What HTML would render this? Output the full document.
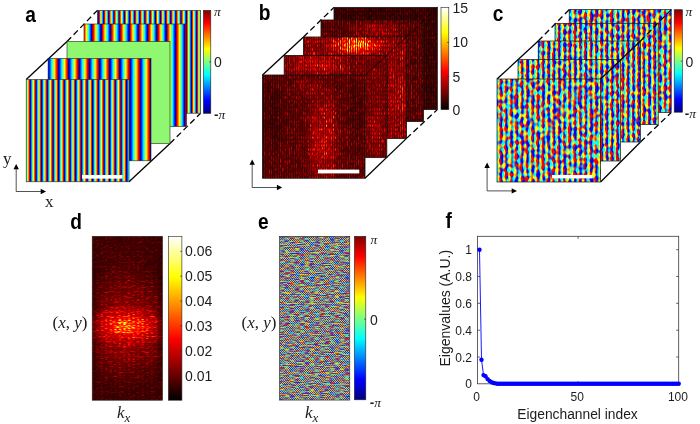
<!DOCTYPE html><html><head><meta charset="utf-8"><title>figure</title>
<style>html,body{margin:0;padding:0;background:#fff}svg{display:block}text{font-family:"Liberation Sans",sans-serif;fill:#1c1c1c}.b{font-weight:bold;font-size:22px;fill:#000}.m{font-family:"Liberation Serif",serif;font-style:italic}.s{font-family:"Liberation Serif",serif}</style></head><body>
<svg width="700" height="424" viewBox="0 0 700 424">
<defs>
<linearGradient id="jetV" x1="0" y1="1" x2="0" y2="0"><stop offset="0.0000" stop-color="#000080"/><stop offset="0.0312" stop-color="#00009f"/><stop offset="0.0625" stop-color="#0000bf"/><stop offset="0.0938" stop-color="#0000df"/><stop offset="0.1250" stop-color="#0000ff"/><stop offset="0.1562" stop-color="#0020ff"/><stop offset="0.1875" stop-color="#0040ff"/><stop offset="0.2188" stop-color="#0060ff"/><stop offset="0.2500" stop-color="#0080ff"/><stop offset="0.2812" stop-color="#009fff"/><stop offset="0.3125" stop-color="#00bfff"/><stop offset="0.3438" stop-color="#00dfff"/><stop offset="0.3750" stop-color="#00ffff"/><stop offset="0.4062" stop-color="#20ffdf"/><stop offset="0.4375" stop-color="#40ffbf"/><stop offset="0.4688" stop-color="#60ff9f"/><stop offset="0.5000" stop-color="#80ff80"/><stop offset="0.5312" stop-color="#9fff60"/><stop offset="0.5625" stop-color="#bfff40"/><stop offset="0.5938" stop-color="#dfff20"/><stop offset="0.6250" stop-color="#ffff00"/><stop offset="0.6562" stop-color="#ffdf00"/><stop offset="0.6875" stop-color="#ffbf00"/><stop offset="0.7188" stop-color="#ff9f00"/><stop offset="0.7500" stop-color="#ff8000"/><stop offset="0.7812" stop-color="#ff6000"/><stop offset="0.8125" stop-color="#ff4000"/><stop offset="0.8438" stop-color="#ff2000"/><stop offset="0.8750" stop-color="#ff0000"/><stop offset="0.9062" stop-color="#df0000"/><stop offset="0.9375" stop-color="#bf0000"/><stop offset="0.9688" stop-color="#9f0000"/><stop offset="1.0000" stop-color="#800000"/></linearGradient>
<linearGradient id="hotV" x1="0" y1="1" x2="0" y2="0"><stop offset="0.0000" stop-color="#000000"/><stop offset="0.0417" stop-color="#1c0000"/><stop offset="0.0833" stop-color="#390000"/><stop offset="0.1250" stop-color="#550000"/><stop offset="0.1667" stop-color="#710000"/><stop offset="0.2083" stop-color="#8e0000"/><stop offset="0.2500" stop-color="#aa0000"/><stop offset="0.2917" stop-color="#c60000"/><stop offset="0.3333" stop-color="#e30000"/><stop offset="0.3750" stop-color="#ff0000"/><stop offset="0.4167" stop-color="#ff1c00"/><stop offset="0.4583" stop-color="#ff3900"/><stop offset="0.5000" stop-color="#ff5500"/><stop offset="0.5417" stop-color="#ff7100"/><stop offset="0.5833" stop-color="#ff8e00"/><stop offset="0.6250" stop-color="#ffaa00"/><stop offset="0.6667" stop-color="#ffc600"/><stop offset="0.7083" stop-color="#ffe300"/><stop offset="0.7500" stop-color="#ffff00"/><stop offset="0.7917" stop-color="#ffff2a"/><stop offset="0.8333" stop-color="#ffff55"/><stop offset="0.8750" stop-color="#ffff80"/><stop offset="0.9167" stop-color="#ffffaa"/><stop offset="0.9583" stop-color="#ffffd5"/><stop offset="1.0000" stop-color="#ffffff"/></linearGradient>
<linearGradient id="sa1" gradientUnits="userSpaceOnUse" x1="24.330" y1="0" x2="30.000" y2="0" spreadMethod="repeat"><stop offset="0.0000" stop-color="#000080"/><stop offset="0.0625" stop-color="#0000bf"/><stop offset="0.1250" stop-color="#0000ff"/><stop offset="0.1875" stop-color="#0040ff"/><stop offset="0.2500" stop-color="#0080ff"/><stop offset="0.3125" stop-color="#00bfff"/><stop offset="0.3750" stop-color="#00ffff"/><stop offset="0.4375" stop-color="#40ffbf"/><stop offset="0.5000" stop-color="#80ff80"/><stop offset="0.5625" stop-color="#bfff40"/><stop offset="0.6250" stop-color="#ffff00"/><stop offset="0.6875" stop-color="#ffbf00"/><stop offset="0.7500" stop-color="#ff8000"/><stop offset="0.8125" stop-color="#ff4000"/><stop offset="0.8750" stop-color="#ff0000"/><stop offset="0.9375" stop-color="#bf0000"/><stop offset="1.0000" stop-color="#800000"/></linearGradient>
<linearGradient id="sa2" gradientUnits="userSpaceOnUse" x1="47.900" y1="0" x2="58.120" y2="0" spreadMethod="repeat"><stop offset="0.0000" stop-color="#000080"/><stop offset="0.0625" stop-color="#0000bf"/><stop offset="0.1250" stop-color="#0000ff"/><stop offset="0.1875" stop-color="#0040ff"/><stop offset="0.2500" stop-color="#0080ff"/><stop offset="0.3125" stop-color="#00bfff"/><stop offset="0.3750" stop-color="#00ffff"/><stop offset="0.4375" stop-color="#40ffbf"/><stop offset="0.5000" stop-color="#80ff80"/><stop offset="0.5625" stop-color="#bfff40"/><stop offset="0.6250" stop-color="#ffff00"/><stop offset="0.6875" stop-color="#ffbf00"/><stop offset="0.7500" stop-color="#ff8000"/><stop offset="0.8125" stop-color="#ff4000"/><stop offset="0.8750" stop-color="#ff0000"/><stop offset="0.9375" stop-color="#bf0000"/><stop offset="1.0000" stop-color="#800000"/></linearGradient>
<linearGradient id="sa4" gradientUnits="userSpaceOnUse" x1="83.020" y1="0" x2="92.320" y2="0" spreadMethod="repeat"><stop offset="0.0000" stop-color="#800000"/><stop offset="0.0625" stop-color="#bf0000"/><stop offset="0.1250" stop-color="#ff0000"/><stop offset="0.1875" stop-color="#ff4000"/><stop offset="0.2500" stop-color="#ff8000"/><stop offset="0.3125" stop-color="#ffbf00"/><stop offset="0.3750" stop-color="#ffff00"/><stop offset="0.4375" stop-color="#bfff40"/><stop offset="0.5000" stop-color="#80ff80"/><stop offset="0.5625" stop-color="#40ffbf"/><stop offset="0.6250" stop-color="#00ffff"/><stop offset="0.6875" stop-color="#00bfff"/><stop offset="0.7500" stop-color="#0080ff"/><stop offset="0.8125" stop-color="#0040ff"/><stop offset="0.8750" stop-color="#0000ff"/><stop offset="0.9375" stop-color="#0000bf"/><stop offset="1.0000" stop-color="#000080"/></linearGradient>
<linearGradient id="sa5" gradientUnits="userSpaceOnUse" x1="93.640" y1="0" x2="98.800" y2="0" spreadMethod="repeat"><stop offset="0.0000" stop-color="#800000"/><stop offset="0.0625" stop-color="#bf0000"/><stop offset="0.1250" stop-color="#ff0000"/><stop offset="0.1875" stop-color="#ff4000"/><stop offset="0.2500" stop-color="#ff8000"/><stop offset="0.3125" stop-color="#ffbf00"/><stop offset="0.3750" stop-color="#ffff00"/><stop offset="0.4375" stop-color="#bfff40"/><stop offset="0.5000" stop-color="#80ff80"/><stop offset="0.5625" stop-color="#40ffbf"/><stop offset="0.6250" stop-color="#00ffff"/><stop offset="0.6875" stop-color="#00bfff"/><stop offset="0.7500" stop-color="#0080ff"/><stop offset="0.8125" stop-color="#0040ff"/><stop offset="0.8750" stop-color="#0000ff"/><stop offset="0.9375" stop-color="#0000bf"/><stop offset="1.0000" stop-color="#000080"/></linearGradient>
<linearGradient id="sc" gradientUnits="userSpaceOnUse" x1="0.000" y1="0" x2="5.100" y2="0" spreadMethod="repeat"><stop offset="0.0000" stop-color="#000080"/><stop offset="0.0625" stop-color="#0000bf"/><stop offset="0.1250" stop-color="#0000ff"/><stop offset="0.1875" stop-color="#0040ff"/><stop offset="0.2500" stop-color="#0080ff"/><stop offset="0.3125" stop-color="#00bfff"/><stop offset="0.3750" stop-color="#00ffff"/><stop offset="0.4375" stop-color="#40ffbf"/><stop offset="0.5000" stop-color="#80ff80"/><stop offset="0.5625" stop-color="#bfff40"/><stop offset="0.6250" stop-color="#ffff00"/><stop offset="0.6875" stop-color="#ffbf00"/><stop offset="0.7500" stop-color="#ff8000"/><stop offset="0.8125" stop-color="#ff4000"/><stop offset="0.8750" stop-color="#ff0000"/><stop offset="0.9375" stop-color="#bf0000"/><stop offset="1.0000" stop-color="#800000"/></linearGradient>
<linearGradient id="car" gradientUnits="userSpaceOnUse" x1="0" y1="0" x2="5.3" y2="0" spreadMethod="repeat"><stop offset="0.0000" stop-color="#ff8000"/><stop offset="0.0625" stop-color="#f5b000"/><stop offset="0.1250" stop-color="#dada00"/><stop offset="0.1875" stop-color="#b0f500"/><stop offset="0.2500" stop-color="#80ff00"/><stop offset="0.3125" stop-color="#4ff500"/><stop offset="0.3750" stop-color="#25da00"/><stop offset="0.4375" stop-color="#0ab000"/><stop offset="0.5000" stop-color="#008000"/><stop offset="0.5625" stop-color="#0a4f00"/><stop offset="0.6250" stop-color="#252500"/><stop offset="0.6875" stop-color="#4f0a00"/><stop offset="0.7500" stop-color="#7f0000"/><stop offset="0.8125" stop-color="#b00a00"/><stop offset="0.8750" stop-color="#da2500"/><stop offset="0.9375" stop-color="#f54f00"/><stop offset="1.0000" stop-color="#ff7f00"/></linearGradient>
<filter id="fc1" filterUnits="userSpaceOnUse" x="495.0" y="77.0" width="107.6" height="107.0" color-interpolation-filters="sRGB"><feTurbulence type="fractalNoise" baseFrequency="0.22 0.22" numOctaves="1" seed="4"/><feColorMatrix type="matrix" values="1 0 0 0 0  0 1 0 0 0  0 0 1 0 0  0 0 0 0 1" result="n"/><feComposite in="n" in2="SourceGraphic" operator="arithmetic" k1="0" k2="1.2" k3="0.38" k4="-0.290" result="s"/><feColorMatrix in="s" type="matrix" values="0 3.5 0 0 -1.25  3.5 0 0 0 -1.25  0 -3.5 0 0 2.25  0 0 0 0 1" result="c"/><feGaussianBlur in="c" stdDeviation="0.5"/></filter>
<filter id="fc2" filterUnits="userSpaceOnUse" x="516.0" y="57.5" width="106.5" height="105.5" color-interpolation-filters="sRGB"><feTurbulence type="fractalNoise" baseFrequency="0.23 0.23" numOctaves="1" seed="5"/><feColorMatrix type="matrix" values="1 0 0 0 0  0 1 0 0 0  0 0 1 0 0  0 0 0 0 1" result="n"/><feComposite in="n" in2="SourceGraphic" operator="arithmetic" k1="0" k2="1.2" k3="0.5" k4="-0.350" result="s"/><feColorMatrix in="s" type="matrix" values="0 3.5 0 0 -1.25  3.5 0 0 0 -1.25  0 -3.5 0 0 2.25  0 0 0 0 1" result="c"/><feGaussianBlur in="c" stdDeviation="0.5"/></filter>
<filter id="fc3" filterUnits="userSpaceOnUse" x="536.2" y="39.0" width="106.3" height="105.0" color-interpolation-filters="sRGB"><feTurbulence type="fractalNoise" baseFrequency="0.23 0.23" numOctaves="1" seed="6"/><feColorMatrix type="matrix" values="1 0 0 0 0  0 1 0 0 0  0 0 1 0 0  0 0 0 0 1" result="n"/><feComposite in="n" in2="SourceGraphic" operator="arithmetic" k1="0" k2="1.2" k3="0.55" k4="-0.375" result="s"/><feColorMatrix in="s" type="matrix" values="0 3.5 0 0 -1.25  3.5 0 0 0 -1.25  0 -3.5 0 0 2.25  0 0 0 0 1" result="c"/><feGaussianBlur in="c" stdDeviation="0.5"/></filter>
<filter id="fc4" filterUnits="userSpaceOnUse" x="553.0" y="21.3" width="107.2" height="105.3" color-interpolation-filters="sRGB"><feTurbulence type="fractalNoise" baseFrequency="0.23 0.23" numOctaves="1" seed="7"/><feColorMatrix type="matrix" values="1 0 0 0 0  0 1 0 0 0  0 0 1 0 0  0 0 0 0 1" result="n"/><feComposite in="n" in2="SourceGraphic" operator="arithmetic" k1="0" k2="1.2" k3="0.5" k4="-0.350" result="s"/><feColorMatrix in="s" type="matrix" values="0 3.5 0 0 -1.25  3.5 0 0 0 -1.25  0 -3.5 0 0 2.25  0 0 0 0 1" result="c"/><feGaussianBlur in="c" stdDeviation="0.5"/></filter>
<filter id="fc5" filterUnits="userSpaceOnUse" x="567.2" y="7.6" width="106.0" height="106.9" color-interpolation-filters="sRGB"><feTurbulence type="fractalNoise" baseFrequency="0.22 0.22" numOctaves="1" seed="8"/><feColorMatrix type="matrix" values="1 0 0 0 0  0 1 0 0 0  0 0 1 0 0  0 0 0 0 1" result="n"/><feComposite in="n" in2="SourceGraphic" operator="arithmetic" k1="0" k2="1.2" k3="0.4" k4="-0.300" result="s"/><feColorMatrix in="s" type="matrix" values="0 3.5 0 0 -1.25  3.5 0 0 0 -1.25  0 -3.5 0 0 2.25  0 0 0 0 1" result="c"/><feGaussianBlur in="c" stdDeviation="0.5"/></filter>
<linearGradient id="care" gradientUnits="userSpaceOnUse" x1="0" y1="0" x2="1.25" y2="1.0" spreadMethod="repeat"><stop offset="0.0000" stop-color="#ff8000"/><stop offset="0.1250" stop-color="#dada00"/><stop offset="0.2500" stop-color="#80ff00"/><stop offset="0.3750" stop-color="#25da00"/><stop offset="0.5000" stop-color="#008000"/><stop offset="0.6250" stop-color="#252500"/><stop offset="0.7500" stop-color="#7f0000"/><stop offset="0.8750" stop-color="#da2500"/><stop offset="1.0000" stop-color="#ff7f00"/></linearGradient>
<linearGradient id="care2" gradientUnits="userSpaceOnUse" x1="0" y1="0" x2="1.2" y2="-1.1" spreadMethod="repeat"><stop offset="0.0000" stop-color="#ff8000"/><stop offset="0.1250" stop-color="#dada00"/><stop offset="0.2500" stop-color="#80ff00"/><stop offset="0.3750" stop-color="#25da00"/><stop offset="0.5000" stop-color="#008000"/><stop offset="0.6250" stop-color="#252500"/><stop offset="0.7500" stop-color="#7f0000"/><stop offset="0.8750" stop-color="#da2500"/><stop offset="1.0000" stop-color="#ff7f00"/></linearGradient>
<filter id="fe" filterUnits="userSpaceOnUse" x="277.5" y="234.3" width="74.3" height="167.8" color-interpolation-filters="sRGB"><feTurbulence type="fractalNoise" baseFrequency="0.2 0.9" numOctaves="1" seed="3"/><feColorMatrix type="matrix" values="1 0 0 0 0  0 1 0 0 0  0 0 1 0 0  0 0 0 0 1" result="n"/><feComposite in="n" in2="SourceGraphic" operator="arithmetic" k1="0" k2="1.3" k3="0.7" k4="-0.500" result="s"/><feColorMatrix in="s" type="matrix" values="0 3 0 0 -1.0  3 0 0 0 -1.0  0 -3 0 0 2.0  0 0 0 0 1" result="c"/><feGaussianBlur in="c" stdDeviation="0.6"/><feColorMatrix type="matrix" values="0.72 0 0 0 0.14  0 0.72 0 0 0.14  0 0 0.72 0 0.14  0 0 0 1 0"/></filter>
<filter id="fb1" filterUnits="userSpaceOnUse" x="260.5" y="73.0" width="106.5" height="107.2" color-interpolation-filters="sRGB"><feTurbulence type="fractalNoise" baseFrequency="0.45 0.25" numOctaves="1" seed="21"/><feColorMatrix type="matrix" values="2.0 0 0 0 -0.500  0 2.0 0 0 -0.500  0 0 0 0 0  0 0 0 0 1" result="n"/><feComposite in="n" in2="n" operator="arithmetic" k1="4" k2="-4" k3="0" k4="1" result="q"/><feColorMatrix in="q" type="matrix" values="0.34 0.34 0 0 0.32  0.34 0.34 0 0 0.32  0.34 0.34 0 0 0.32  0 0 0 0 1" result="v"/><feComposite in="v" in2="SourceGraphic" operator="arithmetic" k1="2.6" k2="0" k3="0" k4="0" result="m"/><feGaussianBlur in="m" stdDeviation="0.4" result="m2"/><feComponentTransfer><feFuncR type="table" tableValues="0 0.167 0.333 0.5 0.667 0.833 1 1 1 1 1 1 1 1 1 1 1"/><feFuncG type="table" tableValues="0 0 0 0 0 0 0 0.167 0.333 0.5 0.667 0.833 1 1 1 1 1"/><feFuncB type="table" tableValues="0 0 0 0 0 0 0 0 0 0 0 0 0 0.25 0.5 0.75 1"/></feComponentTransfer></filter>
<filter id="fb2" filterUnits="userSpaceOnUse" x="282.2" y="53.5" width="106.6" height="106.1" color-interpolation-filters="sRGB"><feTurbulence type="fractalNoise" baseFrequency="0.45 0.25" numOctaves="1" seed="22"/><feColorMatrix type="matrix" values="2.0 0 0 0 -0.500  0 2.0 0 0 -0.500  0 0 0 0 0  0 0 0 0 1" result="n"/><feComposite in="n" in2="n" operator="arithmetic" k1="4" k2="-4" k3="0" k4="1" result="q"/><feColorMatrix in="q" type="matrix" values="0.34 0.34 0 0 0.32  0.34 0.34 0 0 0.32  0.34 0.34 0 0 0.32  0 0 0 0 1" result="v"/><feComposite in="v" in2="SourceGraphic" operator="arithmetic" k1="2.6" k2="0" k3="0" k4="0" result="m"/><feGaussianBlur in="m" stdDeviation="0.4" result="m2"/><feComponentTransfer><feFuncR type="table" tableValues="0 0.167 0.333 0.5 0.667 0.833 1 1 1 1 1 1 1 1 1 1 1"/><feFuncG type="table" tableValues="0 0 0 0 0 0 0 0.167 0.333 0.5 0.667 0.833 1 1 1 1 1"/><feFuncB type="table" tableValues="0 0 0 0 0 0 0 0 0 0 0 0 0 0.25 0.5 0.75 1"/></feComponentTransfer></filter>
<filter id="fb3" filterUnits="userSpaceOnUse" x="301.5" y="35.0" width="107.0" height="105.4" color-interpolation-filters="sRGB"><feTurbulence type="fractalNoise" baseFrequency="0.45 0.25" numOctaves="1" seed="23"/><feColorMatrix type="matrix" values="2.0 0 0 0 -0.500  0 2.0 0 0 -0.500  0 0 0 0 0  0 0 0 0 1" result="n"/><feComposite in="n" in2="n" operator="arithmetic" k1="4" k2="-4" k3="0" k4="1" result="q"/><feColorMatrix in="q" type="matrix" values="0.34 0.34 0 0 0.32  0.34 0.34 0 0 0.32  0.34 0.34 0 0 0.32  0 0 0 0 1" result="v"/><feComposite in="v" in2="SourceGraphic" operator="arithmetic" k1="2.6" k2="0" k3="0" k4="0" result="m"/><feGaussianBlur in="m" stdDeviation="0.4" result="m2"/><feComponentTransfer><feFuncR type="table" tableValues="0 0.167 0.333 0.5 0.667 0.833 1 1 1 1 1 1 1 1 1 1 1"/><feFuncG type="table" tableValues="0 0 0 0 0 0 0 0.167 0.333 0.5 0.667 0.833 1 1 1 1 1"/><feFuncB type="table" tableValues="0 0 0 0 0 0 0 0 0 0 0 0 0 0.25 0.5 0.75 1"/></feComponentTransfer></filter>
<filter id="fb4" filterUnits="userSpaceOnUse" x="319.0" y="18.0" width="106.4" height="105.4" color-interpolation-filters="sRGB"><feTurbulence type="fractalNoise" baseFrequency="0.45 0.25" numOctaves="1" seed="24"/><feColorMatrix type="matrix" values="2.0 0 0 0 -0.500  0 2.0 0 0 -0.500  0 0 0 0 0  0 0 0 0 1" result="n"/><feComposite in="n" in2="n" operator="arithmetic" k1="4" k2="-4" k3="0" k4="1" result="q"/><feColorMatrix in="q" type="matrix" values="0.34 0.34 0 0 0.32  0.34 0.34 0 0 0.32  0.34 0.34 0 0 0.32  0 0 0 0 1" result="v"/><feComposite in="v" in2="SourceGraphic" operator="arithmetic" k1="2.6" k2="0" k3="0" k4="0" result="m"/><feGaussianBlur in="m" stdDeviation="0.4" result="m2"/><feComponentTransfer><feFuncR type="table" tableValues="0 0.167 0.333 0.5 0.667 0.833 1 1 1 1 1 1 1 1 1 1 1"/><feFuncG type="table" tableValues="0 0 0 0 0 0 0 0.167 0.333 0.5 0.667 0.833 1 1 1 1 1"/><feFuncB type="table" tableValues="0 0 0 0 0 0 0 0 0 0 0 0 0 0.25 0.5 0.75 1"/></feComponentTransfer></filter>
<filter id="fb5" filterUnits="userSpaceOnUse" x="332.0" y="5.4" width="107.3" height="106.2" color-interpolation-filters="sRGB"><feTurbulence type="fractalNoise" baseFrequency="0.45 0.25" numOctaves="1" seed="25"/><feColorMatrix type="matrix" values="2.0 0 0 0 -0.500  0 2.0 0 0 -0.500  0 0 0 0 0  0 0 0 0 1" result="n"/><feComposite in="n" in2="n" operator="arithmetic" k1="4" k2="-4" k3="0" k4="1" result="q"/><feColorMatrix in="q" type="matrix" values="0.34 0.34 0 0 0.32  0.34 0.34 0 0 0.32  0.34 0.34 0 0 0.32  0 0 0 0 1" result="v"/><feComposite in="v" in2="SourceGraphic" operator="arithmetic" k1="2.6" k2="0" k3="0" k4="0" result="m"/><feGaussianBlur in="m" stdDeviation="0.4" result="m2"/><feComponentTransfer><feFuncR type="table" tableValues="0 0.167 0.333 0.5 0.667 0.833 1 1 1 1 1 1 1 1 1 1 1"/><feFuncG type="table" tableValues="0 0 0 0 0 0 0 0.167 0.333 0.5 0.667 0.833 1 1 1 1 1"/><feFuncB type="table" tableValues="0 0 0 0 0 0 0 0 0 0 0 0 0 0.25 0.5 0.75 1"/></feComponentTransfer></filter>
<filter id="fd" filterUnits="userSpaceOnUse" x="90.2" y="234.3" width="74.3" height="167.9" color-interpolation-filters="sRGB"><feTurbulence type="fractalNoise" baseFrequency="0.22 0.8" numOctaves="1" seed="31"/><feColorMatrix type="matrix" values="2.0 0 0 0 -0.500  0 2.0 0 0 -0.500  0 0 0 0 0  0 0 0 0 1" result="n"/><feComposite in="n" in2="n" operator="arithmetic" k1="4" k2="-4" k3="0" k4="1" result="q"/><feColorMatrix in="q" type="matrix" values="0.3 0.3 0 0 0.35  0.3 0.3 0 0 0.35  0.3 0.3 0 0 0.35  0 0 0 0 1" result="v"/><feComposite in="v" in2="SourceGraphic" operator="arithmetic" k1="2" k2="0" k3="0" k4="0" result="m"/><feGaussianBlur in="m" stdDeviation="0.5" result="m2"/><feComponentTransfer><feFuncR type="table" tableValues="0 0.167 0.333 0.5 0.667 0.833 1 1 1 1 1 1 1 1 1 1 1"/><feFuncG type="table" tableValues="0 0 0 0 0 0 0 0.167 0.333 0.5 0.667 0.833 1 1 1 1 1"/><feFuncB type="table" tableValues="0 0 0 0 0 0 0 0 0 0 0 0 0 0.25 0.5 0.75 1"/></feComponentTransfer></filter>
<radialGradient id="spot"><stop offset="0" stop-color="#fff" stop-opacity="1"/><stop offset="0.5" stop-color="#fff" stop-opacity="0.55"/><stop offset="1" stop-color="#fff" stop-opacity="0"/></radialGradient>
<linearGradient id="vstripe" gradientUnits="userSpaceOnUse" x1="0" y1="0" x2="2.3" y2="0" spreadMethod="repeat"><stop offset="0" stop-color="#000" stop-opacity="0"/><stop offset="0.5" stop-color="#000" stop-opacity="0.6"/><stop offset="1" stop-color="#000" stop-opacity="0"/></linearGradient>
<radialGradient id="dspot"><stop offset="0" stop-color="#000" stop-opacity="1"/><stop offset="0.5" stop-color="#000" stop-opacity="0.55"/><stop offset="1" stop-color="#000" stop-opacity="0"/></radialGradient>
</defs>
<rect width="700" height="424" fill="#fff"/>
<g stroke="#000" stroke-width="1.30" fill="none">
<path d="M26.20 79.50 L67.00 41.50"/>
<path d="M67.00 41.50 L97.40 10.40" stroke-dasharray="6 3.5"/>
<path d="M129.00 181.80 L170.00 143.50"/>
<path d="M170.00 143.50 L200.60 113.20" stroke-dasharray="6 3.5"/>
</g>
<rect x="97.40" y="10.40" width="103.20" height="102.80" fill="url(#sa5)" stroke="#222" stroke-width="0.6"/>
<rect x="84.00" y="24.00" width="102.50" height="102.50" fill="url(#sa4)" stroke="#222" stroke-width="0.6"/>
<rect x="67.00" y="41.50" width="103.00" height="102.00" fill="#8ff870" stroke="#222" stroke-width="0.6"/>
<rect x="48.10" y="58.50" width="102.90" height="102.30" fill="url(#sa2)" stroke="#222" stroke-width="0.6"/>
<rect x="26.20" y="79.50" width="102.80" height="102.30" fill="url(#sa1)" stroke="#222" stroke-width="0.6"/>
<rect x="82" y="175" width="40.5" height="3.6" fill="#fff"/>
<path d="M16.2 168.0 V191.5 H42.0" stroke="#1a1a1a" stroke-width="0.75" fill="none"/>
<path d="M16.2 164.0 l-2.7 5.3 h5.4z M46.0 191.5 l-5.3 -2.7 v5.4z" fill="#000"/>
<rect x="203.4" y="10.3" width="7.4" height="103" fill="url(#jetV)" stroke="#222" stroke-width="0.6"/>
<text class="b" transform="translate(25.2 21.6) scale(0.87 1)">a</text>
<text class="s" x="3" y="164" font-size="17">y</text>
<text class="s" x="45" y="207" font-size="17">x</text>
<path d="M210.8 61.8 h-1.6" stroke="#222" stroke-width="0.7" fill="none"/>
<text class="m" x="214" y="16.2" font-size="13.5">π</text>
<text x="214" y="67" font-size="14">0</text>
<text x="214" y="118.6" font-size="13.5" font-weight="bold">-<tspan class="m" font-weight="normal">π</tspan></text>
<g stroke="#000" stroke-width="1.30" fill="none">
<path d="M262.50 75.00 L303.50 37.00"/>
<path d="M303.50 37.00 L334.00 7.40" stroke-dasharray="6 3.5"/>
<path d="M365.00 178.20 L406.50 138.40"/>
<path d="M406.50 138.40 L437.30 109.60" stroke-dasharray="6 3.5"/>
</g>
<svg x="334.00" y="7.40" width="103.30" height="102.20" viewBox="334.00 7.40 103.30 102.20" overflow="hidden"><g filter="url(#fb5)"><rect x="331.0" y="4.4" width="109.3" height="108.2" fill="#1a1a1a"/><rect x="331.0" y="4.4" width="109.3" height="108.2" fill="url(#vstripe)"/></g></svg>
<rect x="334.00" y="7.40" width="103.30" height="102.20" fill="none" stroke="#151515" stroke-width="0.85"/>
<svg x="321.00" y="20.00" width="102.40" height="101.40" viewBox="321.00 20.00 102.40 101.40" overflow="hidden"><g filter="url(#fb4)"><rect x="318.0" y="17.0" width="108.4" height="107.4" fill="#292929"/><ellipse cx="378.0" cy="30.0" rx="32.0" ry="14.0" fill="url(#spot)" opacity="0.15"/><rect x="318.0" y="17.0" width="108.4" height="107.4" fill="url(#vstripe)"/></g></svg>
<rect x="321.00" y="20.00" width="102.40" height="101.40" fill="none" stroke="#151515" stroke-width="0.85"/>
<svg x="303.50" y="37.00" width="103.00" height="101.40" viewBox="303.50 37.00 103.00 101.40" overflow="hidden"><g filter="url(#fb3)"><rect x="300.5" y="34.0" width="109.0" height="107.4" fill="#404040"/><ellipse cx="356.0" cy="45.0" rx="30.0" ry="12.0" fill="url(#spot)" opacity="0.55"/><ellipse cx="397.0" cy="95.0" rx="14.0" ry="28.0" fill="url(#spot)" opacity="0.08"/><rect x="300.5" y="34.0" width="109.0" height="107.4" fill="url(#vstripe)"/></g></svg>
<rect x="303.50" y="37.00" width="103.00" height="101.40" fill="none" stroke="#151515" stroke-width="0.85"/>
<svg x="284.20" y="55.50" width="102.60" height="102.10" viewBox="284.20 55.50 102.60 102.10" overflow="hidden"><g filter="url(#fb2)"><rect x="281.2" y="52.5" width="108.6" height="108.1" fill="#383838"/><ellipse cx="318.0" cy="64.0" rx="32.0" ry="14.0" fill="url(#spot)" opacity="0.20"/><ellipse cx="376.0" cy="130.0" rx="14.0" ry="30.0" fill="url(#spot)" opacity="0.06"/><rect x="281.2" y="52.5" width="108.6" height="108.1" fill="url(#vstripe)"/></g></svg>
<rect x="284.20" y="55.50" width="102.60" height="102.10" fill="none" stroke="#151515" stroke-width="0.85"/>
<svg x="262.50" y="75.00" width="102.50" height="103.20" viewBox="262.50 75.00 102.50 103.20" overflow="hidden"><g filter="url(#fb1)"><rect x="259.5" y="72.0" width="108.5" height="109.2" fill="#2b2b2b"/><ellipse cx="323.0" cy="140.0" rx="21.0" ry="62.0" fill="url(#spot)" opacity="0.24"/><ellipse cx="308.0" cy="88.0" rx="20.0" ry="12.0" fill="url(#spot)" opacity="0.10"/><ellipse cx="272.0" cy="112.0" rx="20.0" ry="52.0" fill="url(#dspot)" opacity="0.35"/><ellipse cx="358.0" cy="120.0" rx="10.0" ry="50.0" fill="url(#dspot)" opacity="0.20"/><rect x="259.5" y="72.0" width="108.5" height="109.2" fill="url(#vstripe)"/></g></svg>
<rect x="262.50" y="75.00" width="102.50" height="103.20" fill="none" stroke="#151515" stroke-width="0.85"/>
<g stroke="#000" stroke-width="0.80" fill="none">
<path d="M365.00 75.00 L406.50 37.00"/>
<path d="M406.50 37.00 L437.30 7.40" stroke-dasharray="6 3.5"/>
</g>
<rect x="318" y="169.6" width="41.3" height="3.8" fill="#fff"/>
<path d="M252.2 163.4 V187.5 H278.2" stroke="#1a1a1a" stroke-width="0.75" fill="none"/>
<path d="M252.2 159.4 l-2.7 5.3 h5.4z M282.2 187.5 l-5.3 -2.7 v5.4z" fill="#000"/>
<rect x="441" y="7.4" width="7.8" height="102.2" fill="url(#hotV)" stroke="#222" stroke-width="0.6"/>
<path d="M448.8 42.4 h-1.6 M448.8 76.6 h-1.6" stroke="#222" stroke-width="0.7" fill="none"/>
<text class="b" transform="translate(258.8 20.4) scale(0.87 1)">b</text>
<text x="452.5" y="13.0" font-size="14">15</text>
<text x="452.5" y="47.4" font-size="14">10</text>
<text x="452.5" y="81.6" font-size="14">5</text>
<text x="452.5" y="115.0" font-size="14">0</text>
<g stroke="#000" stroke-width="1.30" fill="none">
<path d="M497.00 79.00 L538.20 41.00"/>
<path d="M538.20 41.00 L569.20 9.60" stroke-dasharray="6 3.5"/>
<path d="M600.60 182.00 L640.50 142.00"/>
<path d="M640.50 142.00 L671.20 112.50" stroke-dasharray="6 3.5"/>
</g>
<svg x="569.20" y="9.60" width="102.00" height="102.90" viewBox="569.20 9.60 102.00 102.90" overflow="hidden"><g filter="url(#fc5)"><rect x="566.2" y="6.6" width="108.0" height="108.9" fill="url(#car)"/></g></svg>
<rect x="569.20" y="9.60" width="102.00" height="102.90" fill="none" stroke="#151515" stroke-width="0.7"/>
<svg x="555.00" y="23.30" width="103.20" height="101.30" viewBox="555.00 23.30 103.20 101.30" overflow="hidden"><g filter="url(#fc4)"><rect x="552.0" y="20.3" width="109.2" height="107.3" fill="url(#car)"/></g></svg>
<rect x="555.00" y="23.30" width="103.20" height="101.30" fill="none" stroke="#151515" stroke-width="0.7"/>
<svg x="538.20" y="41.00" width="102.30" height="101.00" viewBox="538.20 41.00 102.30 101.00" overflow="hidden"><g filter="url(#fc3)"><rect x="535.2" y="38.0" width="108.3" height="107.0" fill="url(#car)"/></g></svg>
<rect x="538.20" y="41.00" width="102.30" height="101.00" fill="none" stroke="#151515" stroke-width="0.7"/>
<svg x="518.00" y="59.50" width="102.50" height="101.50" viewBox="518.00 59.50 102.50 101.50" overflow="hidden"><g filter="url(#fc2)"><rect x="515.0" y="56.5" width="108.5" height="107.5" fill="url(#car)"/></g></svg>
<rect x="518.00" y="59.50" width="102.50" height="101.50" fill="none" stroke="#151515" stroke-width="0.7"/>
<svg x="497.00" y="79.00" width="103.60" height="103.00" viewBox="497.00 79.00 103.60 103.00" overflow="hidden"><g filter="url(#fc1)"><rect x="494.0" y="76.0" width="109.6" height="109.0" fill="url(#car)"/></g></svg>
<rect x="497.00" y="79.00" width="103.60" height="103.00" fill="none" stroke="#151515" stroke-width="0.7"/>
<g stroke="#000" stroke-width="1.25" fill="none">
<path d="M600.60 79.00 L640.50 41.00"/>
<path d="M640.50 41.00 L671.20 9.60" stroke-dasharray="6 3.5"/>
</g>
<rect x="552" y="175" width="40.6" height="3.4" fill="#fff"/>
<path d="M487.1 166.6 V190.9 H513.0" stroke="#1a1a1a" stroke-width="0.75" fill="none"/>
<path d="M487.1 162.6 l-2.7 5.3 h5.4z M517.0 190.9 l-5.3 -2.7 v5.4z" fill="#000"/>
<rect x="674.2" y="9.7" width="8.2" height="102.5" fill="url(#jetV)" stroke="#222" stroke-width="0.6"/>
<text class="b" transform="translate(492.8 20.6) scale(0.87 1)">c</text>
<path d="M682.4 61.2 h-1.6" stroke="#222" stroke-width="0.7" fill="none"/>
<text class="m" x="685.5" y="16.2" font-size="13.5">π</text>
<text x="685.5" y="66.5" font-size="14">0</text>
<text x="684.8" y="118" font-size="13.5" font-weight="bold">-<tspan class="m" font-weight="normal">π</tspan></text>
<svg x="92.20" y="236.30" width="70.30" height="163.90" viewBox="92.20 236.30 70.30 163.90" overflow="hidden"><g filter="url(#fd)"><rect x="89.2" y="233.3" width="76.3" height="169.9" fill="#1b1b1b"/><ellipse cx="126.0" cy="327.0" rx="58.0" ry="62.0" fill="url(#spot)" opacity="0.20"/><ellipse cx="126.0" cy="326.0" rx="48.0" ry="22.0" fill="url(#spot)" opacity="0.28"/><ellipse cx="127.0" cy="326.0" rx="26.0" ry="10.0" fill="url(#spot)" opacity="0.25"/><ellipse cx="125.0" cy="265.0" rx="30.0" ry="30.0" fill="url(#spot)" opacity="0.03"/><ellipse cx="92.0" cy="320.0" rx="10.0" ry="90.0" fill="url(#dspot)" opacity="0.40"/><ellipse cx="163.0" cy="320.0" rx="8.0" ry="90.0" fill="url(#dspot)" opacity="0.40"/></g></svg>
<rect x="92.2" y="236.3" width="70.3" height="163.9" fill="none" stroke="#222" stroke-width="0.6"/>
<rect x="168.4" y="236.3" width="13.5" height="163.9" fill="url(#hotV)" stroke="#222" stroke-width="0.6"/>
<text x="185" y="256.3" font-size="14">0.06</text>
<text x="185" y="281.2" font-size="14">0.05</text>
<text x="185" y="306.1" font-size="14">0.04</text>
<text x="185" y="331.0" font-size="14">0.03</text>
<text x="185" y="355.9" font-size="14">0.02</text>
<text x="185" y="380.8" font-size="14">0.01</text>
<path d="M181.9 251.3 h-1.6 M181.9 276.2 h-1.6 M181.9 301.1 h-1.6 M181.9 326.0 h-1.6 M181.9 350.9 h-1.6 M181.9 375.8 h-1.6" stroke="#222" stroke-width="0.7" fill="none"/>
<text class="b" transform="translate(70.2 228.6) scale(0.87 1)">d</text>
<text class="m" x="52.5" y="328" font-size="17"><tspan font-style="normal">(</tspan>x<tspan font-style="normal">,</tspan> y<tspan font-style="normal">)</tspan></text>
<text class="m" x="117" y="418" font-size="17">k<tspan dy="4" font-size="13">x</tspan></text>
<svg x="279.50" y="236.30" width="70.30" height="163.80" viewBox="279.50 236.30 70.30 163.80" overflow="hidden"><g filter="url(#fe)"><rect x="276.5" y="233.3" width="76.3" height="169.8" fill="url(#care)"/><rect x="276.5" y="233.3" width="76.3" height="169.8" fill="url(#care2)" opacity="0.5"/></g></svg>
<rect x="279.5" y="236.3" width="70.3" height="163.8" fill="none" stroke="#222" stroke-width="0.6"/>
<rect x="354.4" y="236.3" width="11.4" height="163.5" fill="url(#jetV)" stroke="#222" stroke-width="0.6"/>
<text class="b" transform="translate(258 228.6) scale(0.87 1)">e</text>
<text class="m" x="241.5" y="328" font-size="17"><tspan font-style="normal">(</tspan>x<tspan font-style="normal">,</tspan> y<tspan font-style="normal">)</tspan></text>
<text class="m" x="305" y="418" font-size="17">k<tspan dy="4" font-size="13">x</tspan></text>
<path d="M365.8 319.2 h-1.6" stroke="#222" stroke-width="0.7" fill="none"/>
<text class="m" x="370.5" y="243.5" font-size="13.5">π</text>
<text x="370" y="324.5" font-size="14">0</text>
<text x="369.8" y="407" font-size="13.5" font-weight="bold">-<tspan class="m" font-weight="normal">π</tspan></text>
<rect x="477.5" y="236.3" width="201.2" height="147.5" fill="#fff" stroke="#3a3a3a" stroke-width="0.8"/>
<path d="M477.5 357.0 h2.5 M678.7 357.0 h-2.5 M477.5 330.2 h2.5 M678.7 330.2 h-2.5 M477.5 303.3 h2.5 M678.7 303.3 h-2.5 M477.5 276.5 h2.5 M678.7 276.5 h-2.5 M477.5 249.7 h2.5 M678.7 249.7 h-2.5 M578.1 383.8 v-2.5 M578.1 236.3 v2.5" stroke="#3a3a3a" stroke-width="0.8" fill="none"/>
<text x="472" y="388.4" font-size="12" text-anchor="end">0</text>
<text x="472" y="361.6" font-size="12" text-anchor="end">0.2</text>
<text x="472" y="334.8" font-size="12" text-anchor="end">0.4</text>
<text x="472" y="307.9" font-size="12" text-anchor="end">0.6</text>
<text x="472" y="281.1" font-size="12" text-anchor="end">0.8</text>
<text x="472" y="254.3" font-size="12" text-anchor="end">1</text>
<text x="476.7" y="400.6" font-size="12" text-anchor="middle">0</text>
<text x="577.3" y="400.6" font-size="12" text-anchor="middle">50</text>
<text x="677.9" y="400.6" font-size="12" text-anchor="middle">100</text>
<polyline points="479.5,249.7 481.5,359.7 483.5,375.1 485.5,376.2 487.6,379.1 489.6,380.9 491.6,382.2 493.6,383.0 495.6,383.4 497.6,383.7 499.6,383.7 501.6,383.7 503.7,383.7 505.7,383.7 507.7,383.7 509.7,383.7 511.7,383.7 513.7,383.7 515.7,383.7 517.7,383.7 519.8,383.7 521.8,383.7 523.8,383.7 525.8,383.7 527.8,383.7 529.8,383.7 531.8,383.7 533.8,383.7 535.8,383.7 537.9,383.7 539.9,383.7 541.9,383.7 543.9,383.7 545.9,383.7 547.9,383.7 549.9,383.7 551.9,383.7 554.0,383.7 556.0,383.7 558.0,383.7 560.0,383.7 562.0,383.7 564.0,383.7 566.0,383.7 568.0,383.7 570.1,383.7 572.1,383.7 574.1,383.7 576.1,383.7 578.1,383.7 580.1,383.7 582.1,383.7 584.1,383.7 586.1,383.7 588.2,383.7 590.2,383.7 592.2,383.7 594.2,383.7 596.2,383.7 598.2,383.7 600.2,383.7 602.2,383.7 604.3,383.7 606.3,383.7 608.3,383.7 610.3,383.7 612.3,383.7 614.3,383.7 616.3,383.7 618.3,383.7 620.4,383.7 622.4,383.7 624.4,383.7 626.4,383.7 628.4,383.7 630.4,383.7 632.4,383.7 634.4,383.7 636.4,383.7 638.5,383.7 640.5,383.7 642.5,383.7 644.5,383.7 646.5,383.7 648.5,383.7 650.5,383.7 652.5,383.7 654.6,383.7 656.6,383.7 658.6,383.7 660.6,383.7 662.6,383.7 664.6,383.7 666.6,383.7 668.6,383.7 670.7,383.7 672.7,383.7 674.7,383.7 676.7,383.7 678.7,383.7" fill="none" stroke="#0000ff" stroke-width="0.9"/>
<g fill="#0000ff"><circle cx="479.5" cy="249.7" r="2.2"/><circle cx="481.5" cy="359.7" r="2.2"/><circle cx="483.5" cy="375.1" r="2.2"/><circle cx="485.5" cy="376.2" r="2.2"/><circle cx="487.6" cy="379.1" r="2.2"/><circle cx="489.6" cy="380.9" r="2.2"/><circle cx="491.6" cy="382.2" r="2.2"/><circle cx="493.6" cy="383.0" r="2.2"/><circle cx="495.6" cy="383.4" r="2.2"/><circle cx="497.6" cy="383.7" r="2.2"/><circle cx="499.6" cy="383.7" r="2.2"/><circle cx="501.6" cy="383.7" r="2.2"/><circle cx="503.7" cy="383.7" r="2.2"/><circle cx="505.7" cy="383.7" r="2.2"/><circle cx="507.7" cy="383.7" r="2.2"/><circle cx="509.7" cy="383.7" r="2.2"/><circle cx="511.7" cy="383.7" r="2.2"/><circle cx="513.7" cy="383.7" r="2.2"/><circle cx="515.7" cy="383.7" r="2.2"/><circle cx="517.7" cy="383.7" r="2.2"/><circle cx="519.8" cy="383.7" r="2.2"/><circle cx="521.8" cy="383.7" r="2.2"/><circle cx="523.8" cy="383.7" r="2.2"/><circle cx="525.8" cy="383.7" r="2.2"/><circle cx="527.8" cy="383.7" r="2.2"/><circle cx="529.8" cy="383.7" r="2.2"/><circle cx="531.8" cy="383.7" r="2.2"/><circle cx="533.8" cy="383.7" r="2.2"/><circle cx="535.8" cy="383.7" r="2.2"/><circle cx="537.9" cy="383.7" r="2.2"/><circle cx="539.9" cy="383.7" r="2.2"/><circle cx="541.9" cy="383.7" r="2.2"/><circle cx="543.9" cy="383.7" r="2.2"/><circle cx="545.9" cy="383.7" r="2.2"/><circle cx="547.9" cy="383.7" r="2.2"/><circle cx="549.9" cy="383.7" r="2.2"/><circle cx="551.9" cy="383.7" r="2.2"/><circle cx="554.0" cy="383.7" r="2.2"/><circle cx="556.0" cy="383.7" r="2.2"/><circle cx="558.0" cy="383.7" r="2.2"/><circle cx="560.0" cy="383.7" r="2.2"/><circle cx="562.0" cy="383.7" r="2.2"/><circle cx="564.0" cy="383.7" r="2.2"/><circle cx="566.0" cy="383.7" r="2.2"/><circle cx="568.0" cy="383.7" r="2.2"/><circle cx="570.1" cy="383.7" r="2.2"/><circle cx="572.1" cy="383.7" r="2.2"/><circle cx="574.1" cy="383.7" r="2.2"/><circle cx="576.1" cy="383.7" r="2.2"/><circle cx="578.1" cy="383.7" r="2.2"/><circle cx="580.1" cy="383.7" r="2.2"/><circle cx="582.1" cy="383.7" r="2.2"/><circle cx="584.1" cy="383.7" r="2.2"/><circle cx="586.1" cy="383.7" r="2.2"/><circle cx="588.2" cy="383.7" r="2.2"/><circle cx="590.2" cy="383.7" r="2.2"/><circle cx="592.2" cy="383.7" r="2.2"/><circle cx="594.2" cy="383.7" r="2.2"/><circle cx="596.2" cy="383.7" r="2.2"/><circle cx="598.2" cy="383.7" r="2.2"/><circle cx="600.2" cy="383.7" r="2.2"/><circle cx="602.2" cy="383.7" r="2.2"/><circle cx="604.3" cy="383.7" r="2.2"/><circle cx="606.3" cy="383.7" r="2.2"/><circle cx="608.3" cy="383.7" r="2.2"/><circle cx="610.3" cy="383.7" r="2.2"/><circle cx="612.3" cy="383.7" r="2.2"/><circle cx="614.3" cy="383.7" r="2.2"/><circle cx="616.3" cy="383.7" r="2.2"/><circle cx="618.3" cy="383.7" r="2.2"/><circle cx="620.4" cy="383.7" r="2.2"/><circle cx="622.4" cy="383.7" r="2.2"/><circle cx="624.4" cy="383.7" r="2.2"/><circle cx="626.4" cy="383.7" r="2.2"/><circle cx="628.4" cy="383.7" r="2.2"/><circle cx="630.4" cy="383.7" r="2.2"/><circle cx="632.4" cy="383.7" r="2.2"/><circle cx="634.4" cy="383.7" r="2.2"/><circle cx="636.4" cy="383.7" r="2.2"/><circle cx="638.5" cy="383.7" r="2.2"/><circle cx="640.5" cy="383.7" r="2.2"/><circle cx="642.5" cy="383.7" r="2.2"/><circle cx="644.5" cy="383.7" r="2.2"/><circle cx="646.5" cy="383.7" r="2.2"/><circle cx="648.5" cy="383.7" r="2.2"/><circle cx="650.5" cy="383.7" r="2.2"/><circle cx="652.5" cy="383.7" r="2.2"/><circle cx="654.6" cy="383.7" r="2.2"/><circle cx="656.6" cy="383.7" r="2.2"/><circle cx="658.6" cy="383.7" r="2.2"/><circle cx="660.6" cy="383.7" r="2.2"/><circle cx="662.6" cy="383.7" r="2.2"/><circle cx="664.6" cy="383.7" r="2.2"/><circle cx="666.6" cy="383.7" r="2.2"/><circle cx="668.6" cy="383.7" r="2.2"/><circle cx="670.7" cy="383.7" r="2.2"/><circle cx="672.7" cy="383.7" r="2.2"/><circle cx="674.7" cy="383.7" r="2.2"/><circle cx="676.7" cy="383.7" r="2.2"/><circle cx="678.7" cy="383.7" r="2.2"/></g>
<text x="577.5" y="419" font-size="13.8" text-anchor="middle">Eigenchannel index</text>
<text transform="translate(449.5 308.2) rotate(-90)" font-size="14" text-anchor="middle">Eigenvalues (A.U.)</text>
<text class="b" transform="translate(445.6 228) scale(0.87 1)">f</text>
</svg></body></html>
